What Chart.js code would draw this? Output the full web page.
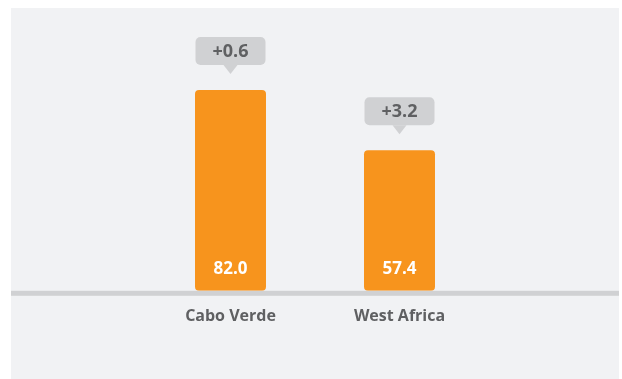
<!DOCTYPE html>
<html>
<head>
<meta charset="utf-8">
<script src="https://cdn.jsdelivr.net/npm/chart.js@4/dist/chart.umd.min.js"></script>
<style>
  html, body { margin: 0; padding: 0; background: #ffffff; }
  #wrap { width: 622px; height: 379px; position: relative; }
</style>
</head>
<body>
<div id="wrap"><canvas id="c" width="622" height="379"></canvas></div>
<script>
// Indicator values and the change since the previous edition
const categories = ['Cabo Verde', 'West Africa'];
const scores = [82.0, 57.4];
const changes = ['+0.6', '+3.2'];

const ORANGE = '#f7941d';
const PANEL = '#f1f2f4';
const RULE = '#d0d1d3';
const LABEL = '#5f6062';
const FONT = "'Open Sans', 'DejaVu Sans', sans-serif";

const decorations = {
  id: 'decorations',
  beforeDraw(chart) {
    const ctx = chart.ctx;
    ctx.save();
    ctx.fillStyle = PANEL;
    ctx.fillRect(11, 8, 608, 371);
    ctx.restore();
  },
  beforeDatasetsDraw(chart) {
    const ctx = chart.ctx;
    const y0 = chart.scales.y.getPixelForValue(0);
    ctx.save();
    ctx.fillStyle = RULE;
    ctx.fillRect(11, y0, 608, 5);
    ctx.restore();
  },
  afterDatasetsDraw(chart) {
    const ctx = chart.ctx;
    const meta = chart.getDatasetMeta(0);
    ctx.save();
    meta.data.forEach((bar, i) => {
      const x = bar.x;
      const w = bar.width;
      // value inside the bar, near its base
      ctx.fillStyle = '#ffffff';
      ctx.font = 'bold 17px ' + FONT;
      ctx.textAlign = 'center';
      ctx.textBaseline = 'middle';
      ctx.fillText(scores[i].toFixed(1), x, bar.base - 22);

      // callout with the change above the bar
      const bw = w - 1;
      const bh = 28;
      const bottom = bar.y - 25;
      const top = bottom - bh;
      const left = x - bw / 2;
      ctx.fillStyle = RULE;
      ctx.beginPath();
      ctx.roundRect(left, top, bw, bh, 5);
      ctx.fill();
      ctx.beginPath();
      ctx.moveTo(x - 7, bottom);
      ctx.lineTo(x + 7, bottom);
      ctx.lineTo(x, bottom + 9);
      ctx.closePath();
      ctx.fill();
      ctx.fillStyle = LABEL;
      ctx.font = 'bold 18px ' + FONT;
      ctx.fillText(changes[i], x, top + bh / 2 + 1);
    });
    ctx.restore();
  }
};

new Chart(document.getElementById('c'), {
  type: 'bar',
  data: {
    labels: categories,
    datasets: [{
      data: scores,
      backgroundColor: ORANGE,
      borderRadius: 4,
      borderSkipped: false,
      categoryPercentage: 1,
      barPercentage: 0.42
    }]
  },
  options: {
    responsive: false,
    animation: false,
    devicePixelRatio: 1,
    layout: { padding: { left: 146, right: 138, top: 46, bottom: 37 } },
    plugins: { legend: { display: false }, tooltip: { enabled: false } },
    scales: {
      x: {
        grid: { display: false, drawTicks: false },
        border: { display: false },
        ticks: {
          padding: 16,
          color: LABEL,
          font: { family: FONT, size: 16, weight: 'bold' }
        }
      },
      y: { display: false, min: 0, max: 100 }
    }
  },
  plugins: [decorations]
});
</script>
</body>
</html>
